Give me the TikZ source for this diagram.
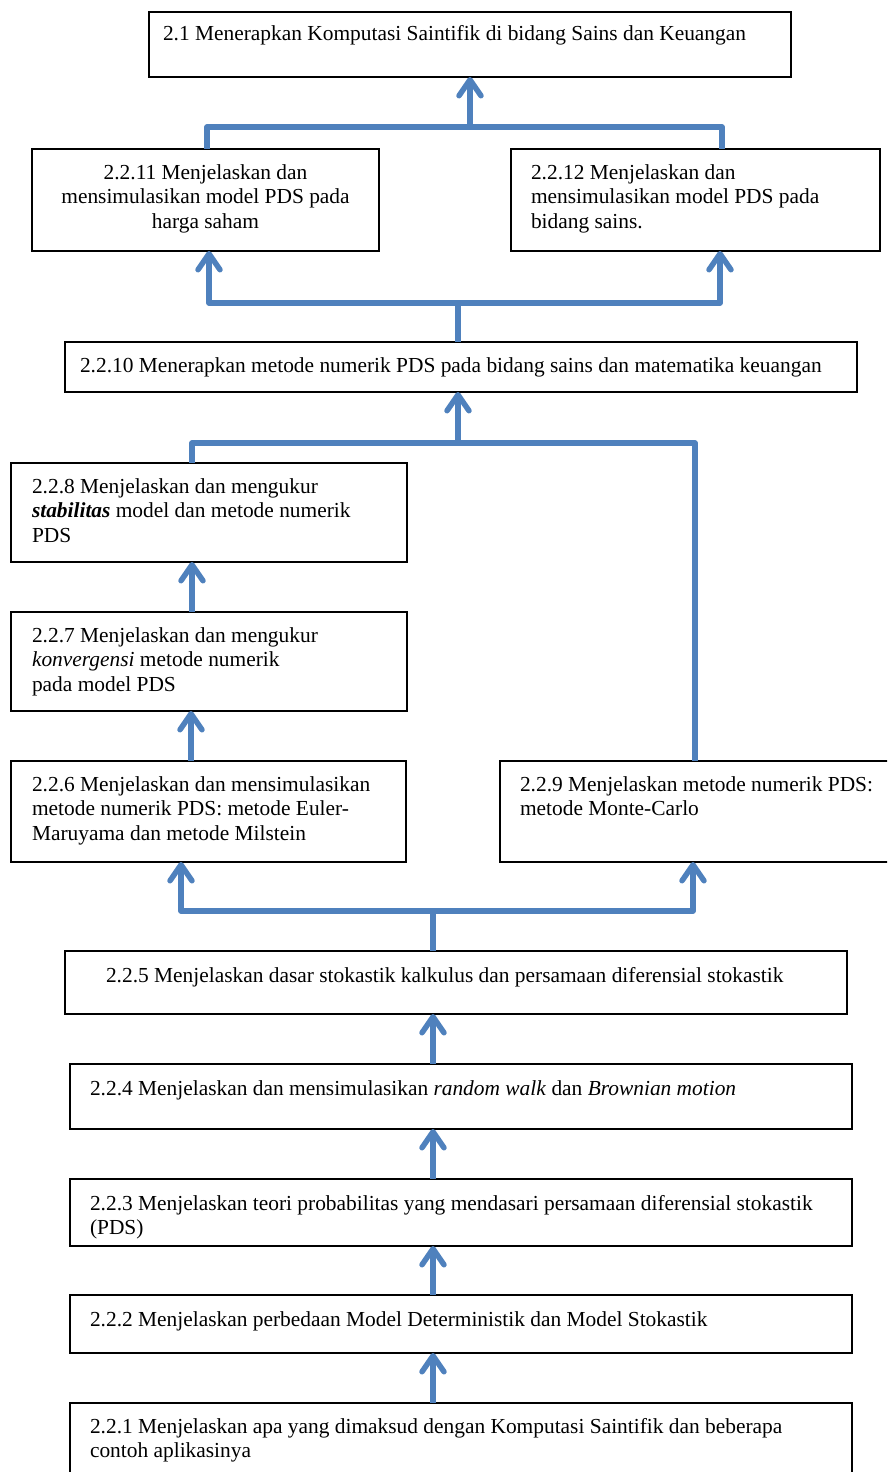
\documentclass[tikz,border=0pt]{standalone}
\usepackage{fontspec}
\setmainfont{Liberation Serif}
\usetikzlibrary{arrows.meta,fit}
\definecolor{cblue}{RGB}{79,129,189}
\begin{document}
\begin{tikzpicture}[x=1pt,y=-1pt,
  box/.style={draw=black, line width=1.5pt, inner sep=0pt, outer sep=0pt, rectangle},
  txt/.style={inner sep=0pt, outer sep=0pt, anchor=north west, align=left, font=\fontsize{21.4}{24.5}\selectfont},
  conn/.style={draw=cblue, line width=5.5pt, line join=round},
  arr/.style={conn, -{Straight Barb[length=16pt,width=22pt,round]}}
]
\useasboundingbox (0,0) rectangle (887,1472);
\begin{scope}
\clip (0,0) rectangle (887,1472);
% boxes
\node[box, fit={(149,12) (791,77)}] (b21) {};
\node[box, fit={(32,149) (379,251)}] (b2211) {};
\node[box, fit={(511,149) (880,251)}] (b2212) {};
\node[box, fit={(65,342) (857,392)}] (b2210) {};
\node[box, fit={(11,463) (407,562)}] (b228) {};
\node[box, fit={(11,612) (407,711)}] (b227) {};
\node[box, fit={(11,761) (406,862)}] (b226) {};
\node[box, fit={(500,761) (900,862)}] (b229) {};
\node[box, fit={(65,951) (847,1014)}] (b225) {};
\node[box, fit={(70,1064) (852,1129)}] (b224) {};
\node[box, fit={(70,1179) (852,1246)}] (b223) {};
\node[box, fit={(70,1295) (852,1353)}] (b222) {};
\node[box, fit={(70,1403) (852,1495)}] (b221) {};
\end{scope}
% texts
\node[txt] (t21) at (163,23.85) {\strut 2.1 Menerapkan Komputasi Saintifik di bidang Sains dan Keuangan};
\node[txt, anchor=north, align=center] (t2211) at (205.5,161.85) {\strut 2.2.11 Menjelaskan dan\\mensimulasikan model PDS pada\\harga saham};
\node[txt] (t2212) at (531,161.85) {\strut 2.2.12 Menjelaskan dan\\mensimulasikan model PDS pada\\bidang sains.};
\node[txt] (t2210) at (80,354.85) {\strut 2.2.10 Menerapkan metode numerik PDS pada bidang sains dan matematika keuangan};
\node[txt] (t228) at (32,475.85) {\strut 2.2.8 Menjelaskan dan mengukur\\\textbf{\textit{stabilitas}} model dan metode numerik\\PDS};
\node[txt] (t227) at (32,624.85) {\strut 2.2.7 Menjelaskan dan mengukur\\\textit{konvergensi} metode numerik\\pada model PDS};
\node[txt] (t226) at (32,773.85) {\strut 2.2.6 Menjelaskan dan mensimulasikan\\metode numerik PDS: metode Euler-\\Maruyama dan metode Milstein};
\node[txt] (t229) at (520,773.85) {\strut 2.2.9 Menjelaskan metode numerik PDS:\\metode Monte-Carlo};
\node[txt] (t225) at (106,964.85) {\strut 2.2.5 Menjelaskan dasar stokastik kalkulus dan persamaan diferensial stokastik};
\node[txt] (t224) at (90,1077.85) {\strut 2.2.4 Menjelaskan dan mensimulasikan \textit{random walk} dan \textit{Brownian motion}};
\node[txt] (t223) at (90,1192.85) {\strut 2.2.3 Menjelaskan teori probabilitas yang mendasari persamaan diferensial stokastik\\(PDS)};
\node[txt] (t222) at (90,1308.85) {\strut 2.2.2 Menjelaskan perbedaan Model Deterministik dan Model Stokastik};
\node[txt] (t221) at (90,1415.85) {\strut 2.2.1 Menjelaskan apa yang dimaksud dengan Komputasi Saintifik dan beberapa\\contoh aplikasinya};
% junctions
\coordinate (ja) at (470,127);
\coordinate (jb) at (458,303);
\coordinate (jc) at (458,443);
\coordinate (jd) at (433,911);
% connectors
\draw[conn] (b2211.north -| 207,0) |- (ja) -| (b2212.north -| 722,0);
\draw[arr] (ja) -- (b21.south -| ja);
\draw[conn] (b2210.north -| jb) -- (jb);
\draw[arr] (jb) -| (b2211.south -| 209,0);
\draw[arr] (jb) -| (b2212.south -| 720,0);
\draw[conn] (b228.north -| 192,0) |- (jc) -| (b229.north -| 695,0);
\draw[arr] (jc) -- (b2210.south -| jc);
\draw[arr] (b227.north -| 192,0) -- (b228.south -| 192,0);
\draw[arr] (b226.north -| 191,0) -- (b227.south -| 191,0);
\draw[conn] (b225.north -| jd) -- (jd);
\draw[arr] (jd) -| (b226.south -| 181,0);
\draw[arr] (jd) -| (b229.south -| 693,0);
\draw[arr] (b224.north -| 433,0) -- (b225.south -| 433,0);
\draw[arr] (b223.north -| 433,0) -- (b224.south -| 433,0);
\draw[arr] (b222.north -| 433,0) -- (b223.south -| 433,0);
\draw[arr] (b221.north -| 433,0) -- (b222.south -| 433,0);
\end{tikzpicture}
\end{document}
